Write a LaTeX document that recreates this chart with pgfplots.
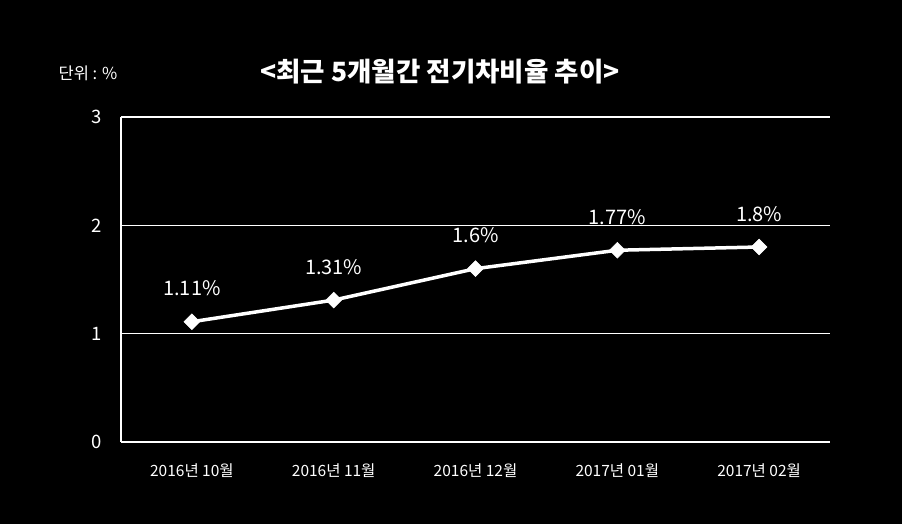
\documentclass[border=0pt]{standalone}
\usepackage{fontspec}
\setmainfont{Noto Sans CJK KR}
\usepackage{pgfplots}
\pgfplotsset{compat=1.18}
\begin{document}
\begin{tikzpicture}[x=1pt,y=1pt]
\fill[black] (0,0) rectangle (902,524);
\node[white,font=\fontsize{26.5}{30}\selectfont\bfseries] at (440,452) {<최근 5개월간 전기차비율 추이>};
\node[white,font=\fontsize{16.5}{19}\selectfont] at (88,451) {단위 : \%};
\begin{axis}[
  at={(121pt,82pt)}, anchor=south west,
  scale only axis, width=709pt, height=325pt,
  xmin=-0.5, xmax=4.5, ymin=0, ymax=3,
  xtick={0,1,2,3,4},
  xticklabels={2016년 10월,2016년 11월,2016년 12월,2017년 01월,2017년 02월},
  ytick={0,1,2,3},
  ymajorgrids, grid style={white, line width=1.2pt},
  axis line style={white, line width=1.2pt},
  axis x line*=bottom, axis y line*=left,
  x axis line style={-}, y axis line style={-},
  major tick length=0pt,
  tick style={draw=none},
  xticklabel style={white, font=\fontsize{15.5}{18}\selectfont, yshift=-18pt},
  yticklabel style={white, font=\fontsize{18.5}{20}\selectfont, xshift=-16pt},
  /pgf/number format/assume math mode=true,
  clip=false,
  nodes near coords,
  point meta=explicit symbolic,
  every node near coord/.append style={white, font=\fontsize{20}{22}\selectfont, anchor=south, yshift=22pt},
]
\addplot[white, line width=3.5pt, mark=square*, mark size=5.6pt, mark options={fill=white, line width=0.5pt, rotate=45}]
  coordinates {(0,1.11)[1.11\%] (1,1.31)[1.31\%] (2,1.6)[1.6\%] (3,1.77)[1.77\%] (4,1.8)[1.8\%]};
\end{axis}
\end{tikzpicture}
\end{document}
